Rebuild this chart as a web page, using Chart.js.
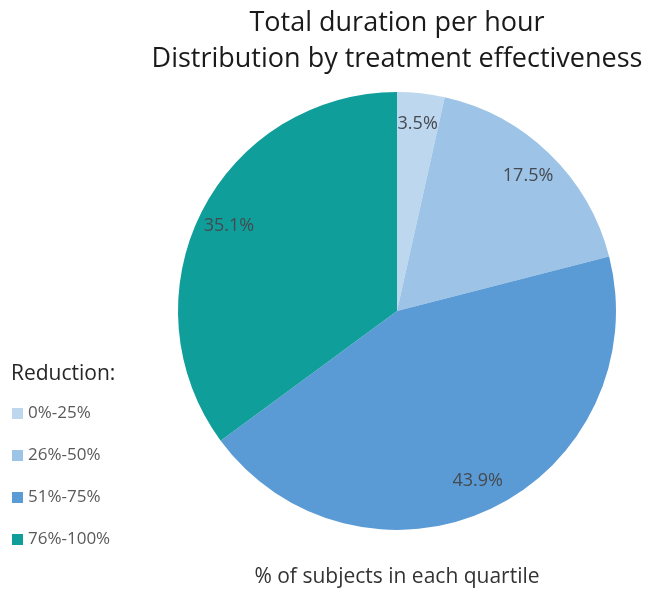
<!DOCTYPE html>
<html>
<head>
<meta charset="utf-8">
<script src="https://cdn.jsdelivr.net/npm/chart.js@4/dist/chart.umd.min.js"></script>
<style>
  html, body { margin: 0; padding: 0; background: #fff; }
  #wrap { width: 650px; height: 590px; position: relative; }
</style>
</head>
<body>
<div id="wrap"><canvas id="pieChart"></canvas></div>
<script>
/* ───────── DATA ───────── */
const categories = ["0%-25%", "26%-50%", "51%-75%", "76%-100%"];
const shares = [3.5, 17.5, 43.9, 35.1];
const sliceColors = ["#bdd7ee", "#9dc3e6", "#5b9bd5", "#109e9a"];
const titleLines = ["Total duration per hour", "Distribution by treatment effectiveness"];
const legendTitle = "Reduction:";
const bottomCaption = "% of subjects in each quartile";

const FONT = "'Open Sans', sans-serif";

/* ───────── SLICE LABELS ───────── */
const sliceLabels = {
  id: "sliceLabels",
  afterDatasetsDraw(chart) {
    const ctx = chart.ctx;
    const meta = chart.getDatasetMeta(0);
    ctx.save();
    ctx.font = "18px " + FONT;
    ctx.fillStyle = "#454a50";
    ctx.textAlign = "center";
    ctx.textBaseline = "middle";
    meta.data.forEach((arc, i) => {
      const p = arc.getProps(["x", "y", "startAngle", "endAngle", "outerRadius"], true);
      const mid = (p.startAngle + p.endAngle) / 2;
      const r = p.outerRadius * 0.86;
      ctx.fillText(shares[i].toFixed(1) + "%", p.x + Math.cos(mid) * r, p.y + Math.sin(mid) * r);
    });
    ctx.restore();
  }
};

/* ───────── SIDE LEGEND ───────── */
const sideLegend = {
  id: "sideLegend",
  afterDraw(chart) {
    const ctx = chart.ctx;
    ctx.save();
    ctx.textBaseline = "middle";
    ctx.textAlign = "left";
    ctx.font = "21px " + FONT;
    ctx.fillStyle = "#262626";
    ctx.fillText(legendTitle, 11, 374);
    ctx.font = "17px " + FONT;
    categories.forEach((c, i) => {
      const y = 413 + i * 42;
      ctx.fillStyle = sliceColors[i];
      ctx.fillRect(12, y - 5, 11, 11);
      ctx.fillStyle = "#595959";
      ctx.fillText(c, 28, y);
    });
    ctx.restore();
  }
};

/* ───────── CHART ───────── */
new Chart(document.getElementById("pieChart"), {
  type: "pie",
  data: {
    labels: categories,
    datasets: [{
      data: shares,
      backgroundColor: sliceColors,
      borderWidth: 0,
      radius: 219
    }]
  },
  options: {
    responsive: true,
    maintainAspectRatio: false,
    animation: false,
    layout: { padding: { left: 144 } },
    plugins: {
      legend: { display: false },
      tooltip: { enabled: false },
      title: {
        display: true,
        text: titleLines,
        color: "#1a1a1a",
        font: { family: FONT, size: 27, weight: "normal", lineHeight: 36 / 27 },
        padding: { top: 5, bottom: 0 }
      },
      subtitle: {
        display: true,
        position: "bottom",
        text: bottomCaption,
        color: "#333333",
        font: { family: FONT, size: 21, weight: "normal", lineHeight: 1.2 },
        padding: { top: 20, bottom: 0 }
      }
    }
  },
  plugins: [sliceLabels, sideLegend]
});
</script>
</body>
</html>
